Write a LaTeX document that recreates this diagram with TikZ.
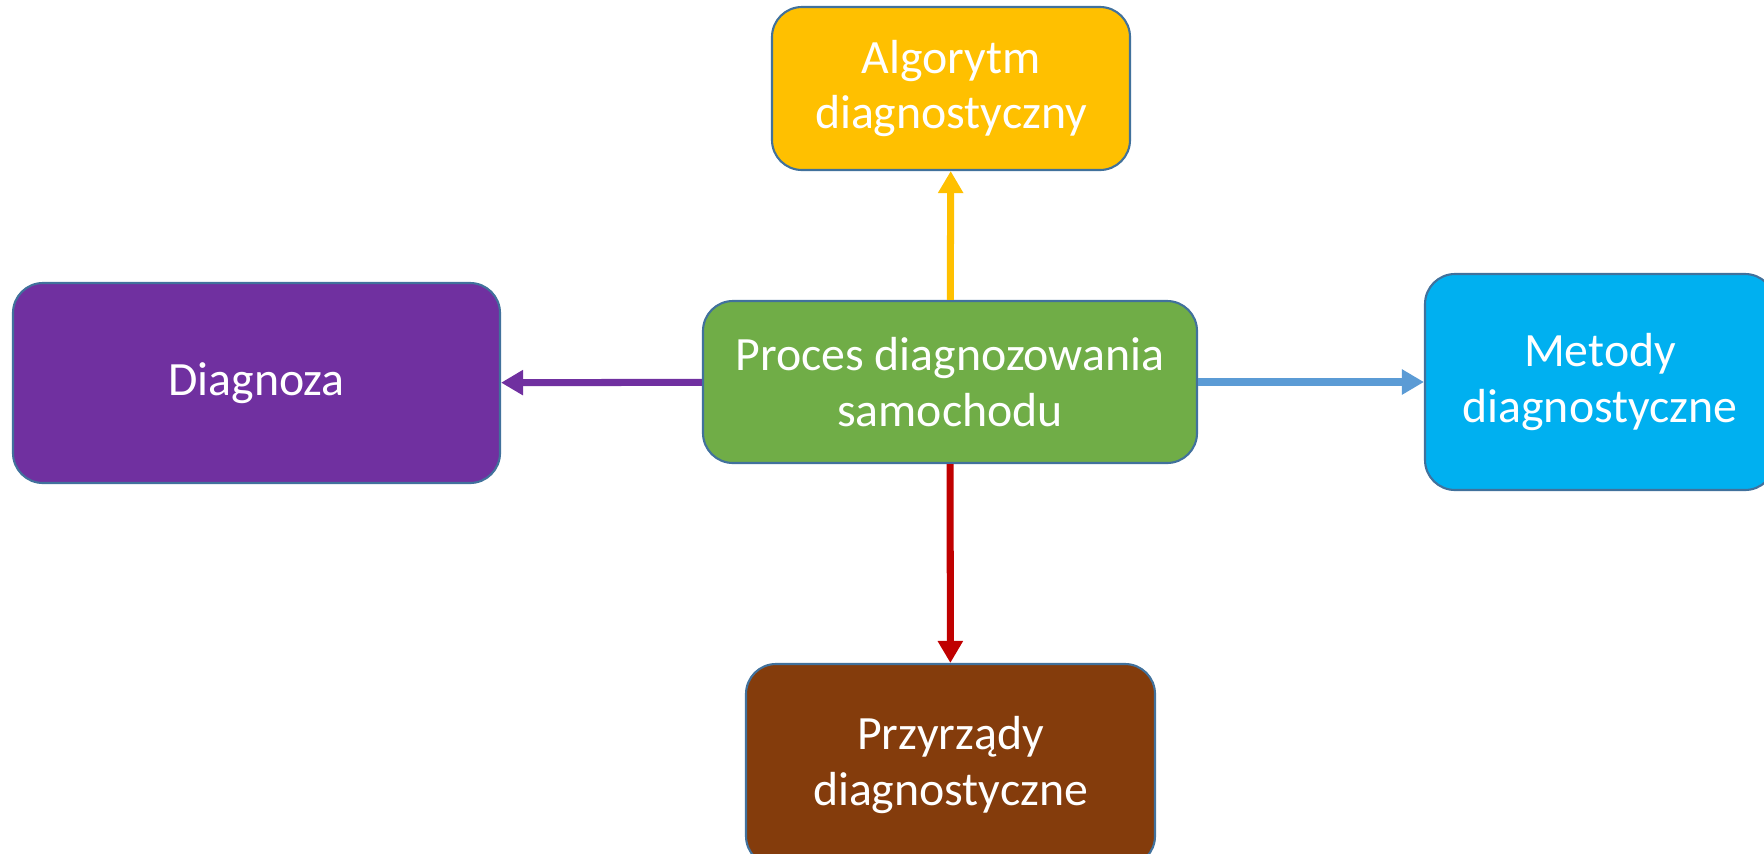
\documentclass[tikz,border=0pt]{standalone}
\usepackage{fontspec}
\setmainfont{Carlito}
\usetikzlibrary{arrows.meta}

\definecolor{ramka}{HTML}{41719C}
\definecolor{zolty}{HTML}{FFC000}
\definecolor{fiolet}{HTML}{7030A0}
\definecolor{zielony}{HTML}{70AD47}
\definecolor{blekit}{HTML}{00B0F0}
\definecolor{braz}{HTML}{843C0C}
\definecolor{niebieski}{HTML}{5B9BD5}
\definecolor{czerwony}{HTML}{C00000}

\begin{document}
\begin{tikzpicture}[
        blok/.style={draw=ramka, line width=0.6pt, rounded corners=0.3cm, text=white,
            align=center, inner sep=0pt, font=\fontsize{13.6}{15.9}\selectfont},
        strzalka/.style={line width=2pt, -{Triangle[length=0.22cm,width=0.24cm]}}
    ]
        \clip (0,0) rectangle (17.64,8.53);

        \node[blok, fill=zielony, minimum width=4.94cm, minimum height=1.62cm] (proces) at (9.50, 4.71) {Proces diagnozowania\\samochodu};

        \node[blok, fill=zolty, minimum width=3.58cm, minimum height=1.63cm] (algorytm) at (9.51, 7.645) {Algorytm\\diagnostyczny};
        \node[blok, fill=fiolet, minimum width=4.87cm, minimum height=2.00cm] (diagnoza) at (2.565, 4.70) {Diagnoza};
        \node[blok, fill=blekit, minimum width=3.50cm, minimum height=2.16cm] (metody) at (16.00, 4.71) {Metody\\diagnostyczne};
        \node[blok, fill=braz, minimum width=4.09cm, minimum height=2.02cm] (przyrzady) at (9.505, 0.88) {Przyrządy\\diagnostyczne};

        \draw[strzalka, zolty] (proces) -- (algorytm);
        \draw[strzalka, fiolet] (proces) -- (diagnoza);
        \draw[strzalka, niebieski] (proces) -- (metody);
        \draw[strzalka, czerwony] (proces) -- (przyrzady);

    \end{tikzpicture}
\end{document}
